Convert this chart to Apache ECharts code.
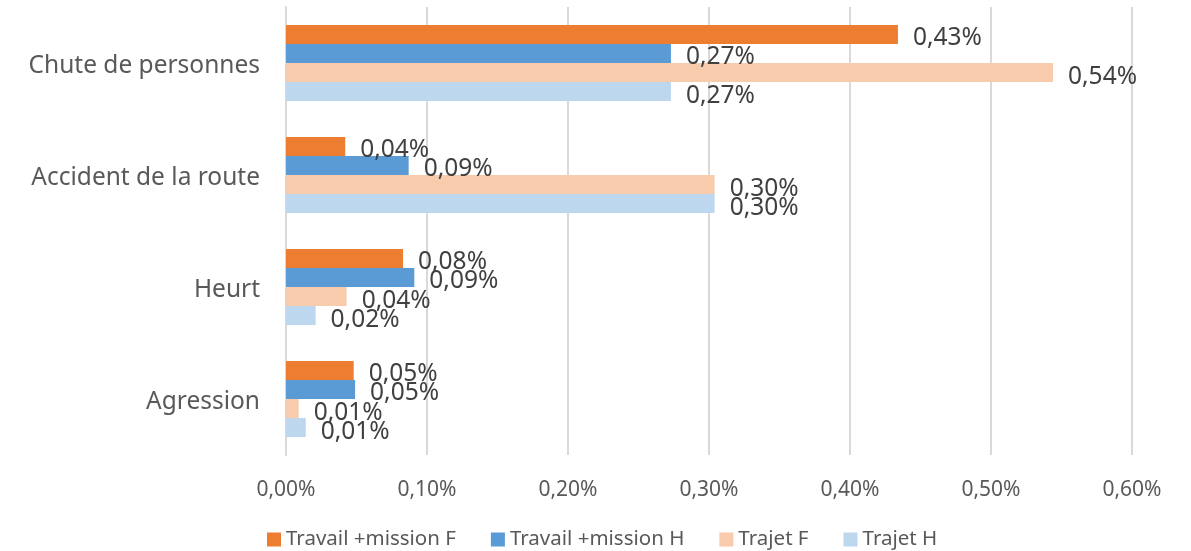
<!DOCTYPE html>
<html>
<head>
<meta charset="utf-8">
<script src="https://cdn.jsdelivr.net/npm/echarts@6/dist/echarts.min.js"></script>
<style>
  html, body { margin: 0; padding: 0; background: #fff; }
  #chart { width: 1191px; height: 551px; }
</style>
</head>
<body>
<div id="chart"></div>
<script>
  // categories, top to bottom
  const categories = ['Chute de personnes', 'Accident de la route', 'Heurt', 'Agression'];
  const seriesNames = ['Travail +mission F', 'Travail +mission H', 'Trajet F', 'Trajet H'];
  const travailF = [0.434, 0.042, 0.083, 0.048];
  const travailH = [0.273, 0.087, 0.091, 0.049];
  const trajetF = [0.544, 0.304, 0.043, 0.009];
  const trajetH = [0.273, 0.304, 0.021, 0.014];
  const xTicks = [0, 0.1, 0.2, 0.3, 0.4, 0.5, 0.6];

  const colors = ['#ED7D31', '#5B9BD5', '#F8CBAD', '#BDD7EE'];
  const font = '"Noto Sans", "Open Sans", sans-serif';
  const fmt = (v) => v.toFixed(2).replace('.', ',') + '%';

  const chart = echarts.init(document.getElementById('chart'));

  const makeSeries = (name, data, i) => ({
    name,
    type: 'bar',
    data,
    barGap: 0,
    barCategoryGap: '32%',
    itemStyle: { color: colors[i] },
    label: {
      show: true,
      position: 'right',
      distance: 15,
      offset: [0, 4],
      color: '#404040',
      fontSize: 24.5,
      fontFamily: font,
      formatter: (p) => fmt(p.value),
    },
  });

  chart.setOption({
    animation: false,
    grid: { left: 286, right: 59, top: 7, bottom: 96 },
    legend: {
      bottom: -4,
      left: 262,
      itemWidth: 14,
      itemHeight: 14,
      itemGap: 35,
      icon: 'rect',
      textStyle: { color: '#595959', fontSize: 20.5, fontFamily: font },
      data: seriesNames,
    },
    xAxis: {
      type: 'value',
      min: xTicks[0],
      max: xTicks[xTicks.length - 1],
      interval: 0.1,
      axisLine: { show: false },
      axisTick: { show: false },
      splitLine: { lineStyle: { color: '#D9D9D9', width: 2 } },
      axisLabel: {
        margin: 25,
        color: '#595959',
        fontSize: 21,
        fontFamily: font,
        formatter: (v) => fmt(v),
      },
    },
    yAxis: {
      type: 'category',
      inverse: true,
      data: categories,
      axisLine: { show: true, lineStyle: { color: '#D9D9D9', width: 2 } },
      axisTick: { show: false },
      axisLabel: {
        margin: 26,
        formatter: (v) => '{c|' + v + '}',
        rich: {
          c: {
            color: '#595959',
            fontSize: 24.5,
            fontFamily: font,
            padding: [7, 0, 0, 0],
          },
        },
      },
    },
    series: [
      makeSeries(seriesNames[0], travailF, 0),
      makeSeries(seriesNames[1], travailH, 1),
      makeSeries(seriesNames[2], trajetF, 2),
      makeSeries(seriesNames[3], trajetH, 3),
    ],
  });
</script>
</body>
</html>
